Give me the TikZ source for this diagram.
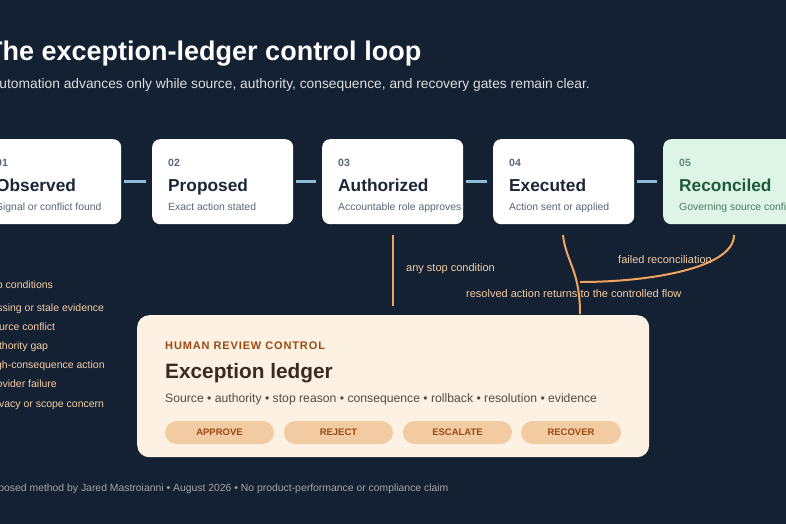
\documentclass[tikz,border=0pt]{standalone}
\usepackage{fontspec}
\setmainfont{Liberation Sans}
\usetikzlibrary{arrows.meta, positioning}
\definecolor{bgnavy}{HTML}{142132}
\definecolor{stepink}{HTML}{1B2636}
\definecolor{stepgray}{HTML}{5A6575}
\definecolor{linkblue}{HTML}{8DBBD6}
\definecolor{ledgerorange}{HTML}{F0A45E}
\definecolor{stoptext}{HTML}{F3CDA5}
\definecolor{ledgerfill}{HTML}{FDF1E3}
\definecolor{ledgerbrown}{HTML}{9A4A12}
\definecolor{ledgerink}{HTML}{3B2A1E}
\definecolor{pillfill}{HTML}{F3CBA3}
\definecolor{reconfill}{HTML}{DDF4E6}
\definecolor{reconink}{HTML}{1F5A3A}

\tikzset{
  stagebox/.style={draw=none, fill=white, rounded corners=8pt, minimum width=141pt, minimum height=85pt, anchor=north west},
  link/.style={linkblue, line width=2.5pt},
  stopline/.style={ledgerorange, line width=2pt},
  steptext/.style={anchor=base west, inner sep=0pt},
  pill/.style={fill=pillfill, rounded corners=11.5pt, minimum width=109pt, minimum height=23pt, inner sep=0pt, text=ledgerbrown, font=\fontsize{9.5}{9.5}\selectfont\bfseries},
  stopitem/.style={anchor=base west, inner sep=0pt, text=stoptext, font=\fontsize{10.5}{10.5}\selectfont},
  flowlabel/.style={anchor=base west, inner sep=0pt, text=stoptext, font=\fontsize{11}{11}\selectfont}
}

\begin{document}
\begin{tikzpicture}[x=1pt, y=-1pt]
\useasboundingbox (0,0) rectangle (786,524);
\fill[bgnavy] (0,0) rectangle (786,524);
\clip (0,0) rectangle (786,524);

% Title
\node[steptext, text=white, font=\fontsize{27}{27}\selectfont\bfseries] (title) at (-14,61) {The exception-ledger control loop};
\node[steptext, text=white!85!bgnavy, font=\fontsize{13.8}{13.8}\selectfont] (subtitle) at (-10,89) {Automation advances only while source, authority, consequence, and recovery gates remain clear.};

% Steps
\foreach \x/\n/\num/\head/\sub in {
  -20/s1/01/Observed/Signal or conflict found,
  152/s2/02/Proposed/Exact action stated,
  322/s3/03/Authorized/Accountable role approves,
  493/s4/04/Executed/Action sent or applied}{
  \node[stagebox] (\n) at (\x,139) {};
  \node[steptext, text=stepgray, font=\fontsize{10.5}{10.5}\selectfont\bfseries] at (\x+16,166) {\num};
  \node[steptext, text=stepink, font=\fontsize{17.3}{17.3}\selectfont\bfseries] at (\x+16,191) {\head};
  \node[steptext, text=stepgray, font=\fontsize{10.4}{10.4}\selectfont] at (\x+16,210) {\sub};
}
\node[stagebox, fill=reconfill] (s5) at (663,139) {};
\node[steptext, text=reconink!70, font=\fontsize{10.5}{10.5}\selectfont\bfseries] at (679,166) {05};
\node[steptext, text=reconink, font=\fontsize{17.3}{17.3}\selectfont\bfseries] at (679,191) {Reconciled};
\node[steptext, text=reconink!80, font=\fontsize{10.4}{10.4}\selectfont] at (679,210) {Governing source confirms};

% Links between steps
\draw[link] ([xshift=3pt]s1.east) -- ([xshift=-6pt]s2.west);
\draw[link] ([xshift=3pt]s2.east) -- ([xshift=-6pt]s3.west);
\draw[link] ([xshift=3pt]s3.east) -- ([xshift=-6pt]s4.west);
\draw[link] ([xshift=3pt]s4.east) -- ([xshift=-6pt]s5.west);

% Ledger
\node[fill=ledgerfill, rounded corners=12pt, minimum width=512pt, minimum height=142pt, anchor=north west, draw=none] (ledger) at (137,315) {};
\node[steptext, text=ledgerbrown, font=\fontsize{11}{11}\selectfont\bfseries\addfontfeature{LetterSpace=8}] at (165,349) {HUMAN REVIEW CONTROL};
\node[steptext, text=ledgerink, font=\fontsize{20.8}{20.8}\selectfont\bfseries] at (165,378) {Exception ledger};
\node[steptext, text=ledgerink!85, font=\fontsize{12.2}{12.2}\selectfont] at (165,402) {Source • authority • stop reason • consequence • rollback • resolution • evidence};
\node[pill] (approve) at (219.5,432.5) {APPROVE};
\node[pill] (reject) at (338.5,432.5) {REJECT};
\node[pill] (escalate) at (457.5,432.5) {ESCALATE};
\node[pill, minimum width=100pt] (recover) at (571,432.5) {RECOVER};

% Stop and return connectors
\coordinate (stoptop) at (393,235);
\coordinate (stopend) at (393,306);
\draw[stopline] (stoptop) -- (stopend);
\node[flowlabel] at (406,271) {any stop condition};
\coordinate (exectop) at (563,235);
\coordinate (returnend) at (580,314);
\draw[stopline] (exectop) .. controls (566,262) and (580,270) .. (returnend);
\coordinate (recontop) at (734,235);
\coordinate (reconend) at (580,282);
\draw[stopline] (recontop) .. controls (734,268) and (650,282) .. (reconend);
\node[flowlabel] at (618,263) {failed reconciliation};
\node[flowlabel] at (466,297) {resolved action returns to the controlled flow};

% Stop conditions list
\node[stopitem] at (-19,288) {Stop conditions};
\foreach \y/\item in {311/Missing or stale evidence, 330/Source conflict, 349/Authority gap,
  368/High-consequence action, 387/Provider failure, 407/Privacy or scope concern}{
  \node[stopitem] at (-14,\y) {\item};
}

% Footer
\node[steptext, text=white!60!bgnavy, font=\fontsize{10.4}{10.4}\selectfont] at (-18,491) {Proposed method by Jared Mastroianni • August 2026 • No product-performance or compliance claim};
\end{tikzpicture}
\end{document}
